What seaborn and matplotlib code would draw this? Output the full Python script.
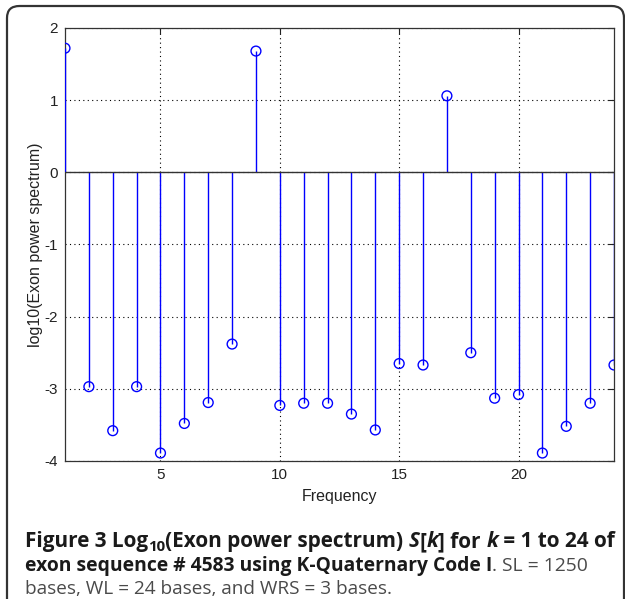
import numpy as np
import pandas as pd
import seaborn as sns
import matplotlib.pyplot as plt
from matplotlib.patches import FancyBboxPatch

## Data
freq = list(range(1, 25))
log_power = [1.72, -2.97, -3.58, -2.97, -3.89, -3.48, -3.19, -2.38,
             1.68, -3.23, -3.20, -3.20, -3.35, -3.57, -2.65, -2.67,
             1.06, -2.50, -3.13, -3.08, -3.89, -3.52, -3.20, -2.67]
x_ticks = [5, 10, 15, 20]
y_ticks = [-4, -3, -2, -1, 0, 1, 2]

df = pd.DataFrame({'Frequency': freq, 'log_power': log_power})

sns.set_style('white')
plt.rcParams['font.family'] = ['Liberation Sans', 'DejaVu Sans']
plt.rcParams['axes.unicode_minus'] = False

fig = plt.figure(figsize=(6.25, 5.99), dpi=100)
ax = fig.add_axes([0.104, 0.2304, 0.8784, 0.7229])

## stems + circles
ax.vlines(df.Frequency, 0, df.log_power, color='#0000ff', lw=1.0, zorder=3)
sns.scatterplot(data=df, x='Frequency', y='log_power', ax=ax, marker='o',
                s=50, facecolor='none', edgecolor='#0000ff', linewidth=1.0,
                zorder=4, legend=False)
ax.axhline(0, color='#333333', lw=1.0, zorder=3)

ax.set_xlim(1, 24)
ax.set_ylim(-4, 2)
ax.set_xticks(x_ticks)
ax.set_yticks(y_ticks)
ax.grid(True, linestyle=(0, (1, 3)), color='black', lw=0.8)
ax.tick_params(direction='in', length=4, top=True, right=True,
               labelsize=11, colors='#222222', width=0.8, pad=5)
for s in ax.spines.values():
    s.set_color('#333333')
    s.set_linewidth(0.9)
ax.set_xlabel('Frequency', fontsize=11.5, color='#222222', labelpad=5)
ax.set_ylabel('log10(Exon power spectrum)', fontsize=11.5, color='#222222', labelpad=1)

## outer rounded frame
frame = FancyBboxPatch((7 / 625, -0.05), 617 / 625, 1.05 - 6 / 599,
                       boxstyle='round,pad=0,rounding_size=0.02',
                       transform=fig.transFigure, fill=False,
                       edgecolor='#333333', lw=1.6, clip_on=False)
fig.patches.append(frame)

## caption, built from pieces (text, weight, style, subscript)
cap_font = ['Open Sans', 'DejaVu Sans']
fs = 13
bold_c = '#1a1a1a'
reg_c = '#4a4a4a'
lines = [
    [('Figure 3 Log', 'bold', 'normal', 0), ('10', 'bold', 'normal', 1),
     ('(Exon power spectrum) ', 'bold', 'normal', 0), ('S', 'bold', 'italic', 0),
     ('[', 'bold', 'normal', 0), ('k', 'bold', 'italic', 0),
     ('] for ', 'bold', 'normal', 0), ('k', 'bold', 'italic', 0),
     (' = 1 to 24 of', 'bold', 'normal', 0)],
    [('exon sequence # 4583 using K-Quaternary Code I', 'bold', 'normal', 0),
     ('. SL = 1250', 'normal', 'normal', 0)],
    [('bases, WL = 24 bases, and WRS = 3 bases.', 'normal', 'normal', 0)],
]
baselines = [547, 571, 594]
targets = [588, 558, 365]   # line widths in px
x0 = 25

renderer = fig.canvas.get_renderer()
for line, yb, tw in zip(lines, baselines, targets):
    arts = []
    for txt, w, st, sub in line:
        t = fig.text(0, 0, txt, fontsize=fs * (0.72 if sub else 1), fontweight=w,
                     fontstyle=st, family=cap_font, va='baseline', ha='left',
                     color=bold_c if w == 'bold' else reg_c)
        arts.append((t, sub))
    total = sum(t.get_window_extent(renderer).width for t, _ in arts)
    scale = tw / total
    for t, sub in arts:
        t.set_fontsize(t.get_fontsize() * scale)
    x = x0
    for t, sub in arts:
        y = yb + (4 if sub else 0)
        t.set_position((x / 625, 1 - y / 599))
        x += t.get_window_extent(renderer).width

plt.savefig('out.png', dpi=100)
